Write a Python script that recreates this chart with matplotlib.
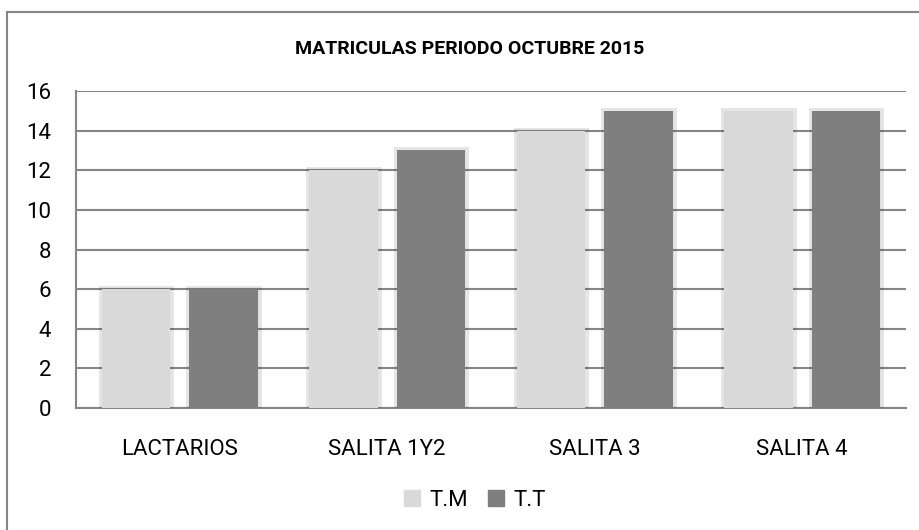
import matplotlib.pyplot as plt
import matplotlib.patheffects as pe
from matplotlib.patches import Rectangle, Patch
import numpy as np

categories = ["LACTARIOS", "SALITA 1Y2", "SALITA 3", "SALITA 4"]
tm = [6, 12, 14, 15]
tt = [6, 13, 15, 15]
series_names = ["T.M", "T.T"]

plt.rcParams['font.family'] = ['Roboto', 'DejaVu Sans']

fig = plt.figure(figsize=(9.19, 5.30), dpi=100)
ax = fig.add_axes([76 / 919, 1 - 408 / 530, 830 / 919, 317 / 530])

x = np.arange(len(categories))
w = 0.33
# soft halo standing in for the excel bar shadow
shadow = [pe.withStroke(linewidth=5, foreground='black', alpha=0.10)]
ax.bar(x - 0.21, tm, w, color='#d9d9d9', zorder=3, path_effects=shadow)
ax.bar(x + 0.21, tt, w, color='#7f7f7f', zorder=3, path_effects=shadow)

ax.set_xlim(-0.5, len(categories) - 0.5)
ax.set_ylim(0, 16)
ax.set_yticks(range(0, 17, 2))
ax.set_xticks(x)
ax.set_xticklabels(categories)
ax.yaxis.grid(True, color='#868686', linewidth=1.5, zorder=0)
ax.set_axisbelow(True)
for s in ['top', 'right']:
    ax.spines[s].set_visible(False)
for s in ['left', 'bottom']:
    ax.spines[s].set_color('#868686')
    ax.spines[s].set_linewidth(1.5)
ax.tick_params(axis='both', length=0, labelsize=16, colors='black')
ax.tick_params(axis='y', pad=18)
ax.tick_params(axis='x', pad=22)

fig.text(470 / 919, 1 - 49 / 530, "MATRICULAS PERIODO OCTUBRE 2015",
         ha='center', va='center', fontsize=14, fontweight='bold')

handles = [Patch(color='#d9d9d9'), Patch(color='#7f7f7f')]
fig.legend(handles, series_names, loc='center', bbox_to_anchor=(475 / 919, 1 - 500 / 530),
           ncol=2, frameon=False, fontsize=16, handlelength=0.7, handleheight=0.7,
           handletextpad=0.45, columnspacing=0.9)

# chart border (runs off the right/bottom edge like the original)
fig.patches.append(Rectangle((7 / 919, -0.1), 1.2, 1.1 - 12 / 530, transform=fig.transFigure,
                             fill=False, edgecolor='#868686', linewidth=1.5, clip_on=False))

fig.savefig("out.png", dpi=100)
